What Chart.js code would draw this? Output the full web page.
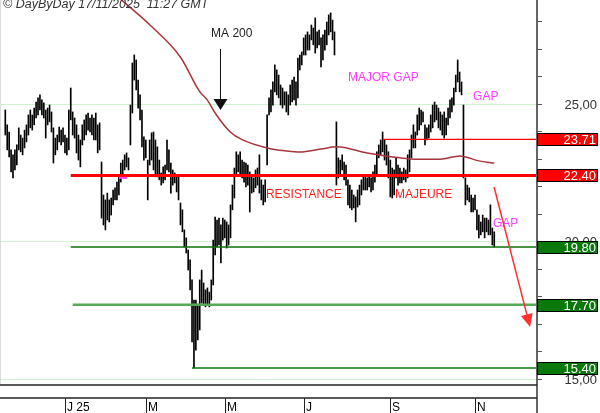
<!DOCTYPE html>
<html>
<head>
<meta charset="utf-8">
<script src="https://cdn.jsdelivr.net/npm/chart.js@4.4.1/dist/chart.umd.min.js"></script>
<style>
html, body { margin: 0; padding: 0; background: #fff; }
canvas { display: block; }
</style>
</head>
<body>
<canvas id="chart" width="600" height="413"></canvas>
<script>
// daily bars, index 0 = first session on the chart
const highs = [
    24.78, 24.24, 23.98, 23.33, 23.15, 23.33, 23.51, 24.13, 23.87, 23.76,
    24.05, 24.24, 24.60, 24.78, 24.60, 24.85, 25.07, 25.22, 25.33, 25.15,
    25.04, 24.78, 24.85, 24.96, 24.71, 24.13, 23.76, 23.87, 24.16, 24.05,
    24.13, 23.87, 23.76, 24.78, 25.58, 24.71, 24.49, 24.24, 23.87, 23.69,
    24.24, 24.42, 24.60, 24.67, 24.49, 24.60, 24.49, 24.67, 24.24, 24.31,
    22.89, 21.69, 21.51, 21.76, 21.51, 21.58, 21.87, 21.95, 22.16, 22.42,
    22.85, 22.96, 23.15, 23.22, 23.04, 24.96, 26.49, 26.78, 26.60, 25.87,
    25.33, 24.78, 23.80, 23.69, 22.96, 23.69, 23.95, 23.98, 23.69, 23.44,
    22.96, 22.49, 22.71, 22.78, 23.69, 23.33, 22.85, 22.60, 22.49, 22.42,
    22.35, 21.40, 21.15, 20.42, 20.13, 19.69, 19.33, 18.60, 17.87, 17.87,
    17.69, 18.60, 18.96, 18.49, 18.24, 18.31, 18.16, 18.60, 20.05, 20.89,
    20.78, 20.85, 20.60, 20.85, 20.78, 20.71, 20.60, 21.33, 22.05, 22.67,
    23.26, 23.15, 23.26, 22.96, 22.89, 22.85, 22.78, 22.53, 22.42, 22.31,
    22.60, 22.67, 23.15, 22.24, 22.05, 22.24, 24.60, 25.22, 25.51, 25.80,
    26.42, 26.24, 26.05, 25.69, 25.58, 25.44, 25.44, 25.33, 25.69, 25.87,
    25.98, 25.80, 26.67, 26.78, 26.89, 27.40, 27.51, 27.62, 27.51, 27.87,
    27.76, 28.13, 27.62, 27.69, 27.40, 27.51, 27.69, 27.98, 28.24, 28.31,
    28.05, 27.62, 24.35, 23.04, 22.96, 23.15, 22.89, 22.78, 22.24, 22.05,
    21.87, 21.69, 21.62, 21.87, 22.05, 22.24, 22.35, 22.42, 22.31, 22.42,
    22.31, 22.53, 22.78, 23.26, 23.51, 23.69, 23.98, 23.69, 23.51, 23.26,
    22.96, 22.67, 22.60, 23.04, 22.78, 22.67, 22.53, 22.67, 22.60, 23.15,
    23.33, 23.87, 24.24, 23.98, 24.60, 24.85, 24.78, 24.71, 24.24, 24.13,
    24.24, 24.60, 24.96, 25.07, 24.96, 24.85, 24.71, 24.60, 24.71, 24.49,
    24.85, 25.15, 25.22, 25.58, 26.05, 26.60, 26.16, 25.80, 24.96, 22.31,
    22.05, 21.95, 21.69, 21.58, 21.69, 21.15, 20.96, 20.71, 20.96, 20.85,
    20.85, 20.78, 21.33, 20.49, 20.35
];
const lows = [
    23.87, 23.33, 23.07, 22.53, 22.31, 22.60, 22.78, 23.33, 23.26, 23.15,
    23.40, 23.62, 23.87, 24.13, 24.05, 24.24, 24.49, 24.60, 24.78, 24.60,
    24.49, 23.76, 24.24, 24.35, 23.98, 22.85, 23.15, 23.33, 23.62, 23.51,
    23.62, 23.22, 23.15, 23.33, 24.42, 23.87, 23.76, 23.22, 22.96, 22.71,
    23.51, 23.69, 23.87, 24.05, 23.98, 23.87, 23.69, 23.69, 23.22, 23.33,
    20.85, 20.60, 20.42, 20.78, 20.71, 20.96, 21.33, 21.51, 21.51, 21.69,
    22.16, 22.42, 22.60, 22.71, 22.60, 23.51, 24.67, 25.87, 25.51, 24.85,
    24.42, 23.44, 22.96, 23.04, 21.51, 22.78, 22.96, 22.60, 22.35, 22.35,
    22.24, 22.05, 22.13, 22.24, 22.60, 22.53, 21.76, 22.05, 22.13, 21.80,
    21.51, 20.60, 20.35, 19.80, 19.58, 18.96, 18.24, 16.35, 15.40, 16.05,
    16.42, 16.78, 17.76, 17.69, 17.62, 17.69, 17.62, 17.87, 18.42, 19.51,
    19.80, 19.87, 19.22, 20.05, 20.13, 19.76, 19.87, 20.13, 21.15, 21.58,
    22.42, 22.53, 22.42, 22.31, 22.16, 21.98, 22.05, 21.07, 21.76, 21.80,
    21.95, 22.05, 21.76, 21.51, 21.33, 21.44, 22.78, 24.60, 24.71, 24.96,
    25.44, 25.33, 25.22, 24.96, 24.85, 24.96, 24.71, 24.60, 24.96, 25.07,
    25.15, 24.96, 25.22, 26.24, 26.42, 26.78, 26.78, 26.96, 26.96, 27.33,
    27.15, 26.85, 27.04, 27.15, 26.35, 26.60, 26.96, 27.15, 27.51, 27.62,
    27.33, 26.78, 22.05, 22.31, 22.42, 22.60, 22.24, 22.05, 21.33, 21.22,
    21.15, 21.22, 20.71, 21.25, 21.33, 21.69, 21.87, 21.87, 21.87, 21.98,
    21.80, 21.87, 22.16, 22.42, 23.04, 23.15, 23.26, 22.96, 22.78, 22.31,
    21.62, 21.58, 21.69, 22.31, 22.05, 22.13, 22.13, 22.24, 22.16, 22.31,
    22.53, 23.04, 23.40, 23.40, 23.87, 24.05, 24.24, 24.35, 23.51, 23.69,
    23.76, 23.98, 24.13, 24.35, 24.42, 24.13, 24.05, 23.87, 23.76, 23.87,
    24.24, 24.49, 24.71, 24.96, 25.44, 25.80, 25.44, 25.33, 22.31, 21.33,
    21.51, 21.44, 21.07, 21.07, 21.15, 20.42, 20.13, 20.24, 20.35, 20.13,
    20.35, 20.24, 20.24, 19.87, 19.80
];

// 200 day moving average, read at a few sessions
const maIndex = [60, 75, 91, 101, 105, 109, 117, 123, 136, 146, 153, 164, 172, 188, 205, 214, 226, 236, 246, 254];
const maValues = [28.80, 27.88, 26.70, 25.45, 25.14, 24.67, 23.97, 23.70, 23.40, 23.29, 23.25, 23.36, 23.44, 23.22, 23.04, 22.99, 22.99, 23.11, 22.93, 22.85];

// support / resistance levels and the session where each line starts
const levels = [23.71, 22.40, 19.80, 17.70, 15.40];
const levelStart = [196, 34, 34, 35, 97];

const monthIndex = [31, 73, 114, 155, 200, 244];
const monthLabels = ['J 25', 'M', 'M', 'J', 'S', 'N'];

const gridValues = [15, 20, 25];
const axisLabels = ['15,00', '20,00', '25,00'];

const xMin = -2.75;
const xMax = 276.2;

const levelStyle = [
    { color: '#ff0000', width: 1.2, box: '#ff0000' },
    { color: '#ff0000', width: 3, box: '#ff0000' },
    { color: '#0b720b', width: 1.5, box: '#0a780a' },
    { color: '#55aa55', width: 2.5, box: '#0a780a' },
    { color: '#0b7a0b', width: 1.5, box: '#0a780a' }
];

const notes = [
    { text: 'MA 200', x: 106.9, y: 27.60, color: '#222' },
    { text: 'MAJOR GAP', x: 178.0, y: 26.02, color: '#ff3cff' },
    { text: 'GAP', x: 243.0, y: 25.33, color: '#ff3cff' },
    { text: 'GAP', x: 253.3, y: 20.69, color: '#ff3cff' },
    { text: 'RESISTANCE', x: 135.4, y: 21.76, color: '#ff2020' },
    { text: 'MAJEURE', x: 202.4, y: 21.76, color: '#ff2020' }
];

const FONT = '"Liberation Sans", Arial, sans-serif';

function drawArrow(ctx, x1, y1, x2, y2, color, lw, len, half) {
    const ang = Math.atan2(y2 - y1, x2 - x1);
    ctx.strokeStyle = color;
    ctx.fillStyle = color;
    ctx.lineWidth = lw;
    ctx.beginPath();
    ctx.moveTo(x1, y1);
    ctx.lineTo(x2 - Math.cos(ang) * len * 0.6, y2 - Math.sin(ang) * len * 0.6);
    ctx.stroke();
    const bx = x2 - Math.cos(ang) * len;
    const by = y2 - Math.sin(ang) * len;
    ctx.beginPath();
    ctx.moveTo(x2, y2);
    ctx.lineTo(bx + Math.sin(ang) * half, by - Math.cos(ang) * half);
    ctx.lineTo(bx - Math.sin(ang) * half, by + Math.cos(ang) * half);
    ctx.closePath();
    ctx.fill();
}

const decor = {
    id: 'decor',
    beforeDatasetsDraw(chart) {
        const { ctx, chartArea: a, scales: { y } } = chart;
        ctx.save();
        ctx.strokeStyle = '#cff2cf';
        ctx.lineWidth = 1;
        gridValues.forEach(v => {
            const py = Math.round(y.getPixelForValue(v)) + 0.5;
            ctx.beginPath();
            ctx.moveTo(a.left, py);
            ctx.lineTo(a.right, py);
            ctx.stroke();
        });
        ctx.strokeStyle = '#dcdcdc';
        ctx.beginPath();
        ctx.moveTo(0.5, 0);
        ctx.lineTo(0.5, a.bottom);
        ctx.stroke();
        ctx.restore();
    },
    afterDraw(chart) {
        const { ctx, chartArea: a, scales: { x, y } } = chart;
        ctx.save();

        // text notes
        ctx.font = '12px ' + FONT;
        ctx.textBaseline = 'middle';
        ctx.textAlign = 'left';
        notes.forEach(n => {
            ctx.fillStyle = n.color;
            ctx.fillText(n.text, x.getPixelForValue(n.x), y.getPixelForValue(n.y) + 1.5);
        });
        ctx.fillStyle = '#ff40ff';
        ctx.fillRect(x.getPixelForValue(59), y.getPixelForValue(22.31) - 1, 8, 2);

        // MA 200 pointer
        const mx = Math.round(x.getPixelForValue(111.5)) + 0.5;
        drawArrow(ctx, mx, y.getPixelForValue(27.0), mx, y.getPixelForValue(24.78), '#111', 1, 11, 7);

        // projected move
        drawArrow(ctx, x.getPixelForValue(253.9), y.getPixelForValue(21.98),
            x.getPixelForValue(272.6), y.getPixelForValue(16.89), '#ff3030', 1.5, 13, 6);

        // price axis
        ctx.strokeStyle = '#666';
        ctx.lineWidth = 2;
        ctx.beginPath();
        ctx.moveTo(a.right, 0);
        ctx.lineTo(a.right, chart.height);
        ctx.stroke();
        ctx.strokeStyle = '#555';
        ctx.lineWidth = 1;
        for (let v = 15; v <= 28; v++) {
            const py = Math.round(y.getPixelForValue(v)) + 0.5;
            ctx.beginPath();
            ctx.moveTo(a.right, py);
            ctx.lineTo(a.right + 5, py);
            ctx.stroke();
        }
        ctx.font = '13px ' + FONT;
        ctx.textAlign = 'right';
        ctx.fillStyle = '#333';
        gridValues.forEach((v, i) => {
            ctx.fillText(axisLabels[i], 597, y.getPixelForValue(v) + 1);
        });

        // level boxes
        levels.forEach((v, i) => {
            const py = Math.round(y.getPixelForValue(v));
            ctx.fillStyle = levelStyle[i].box;
            ctx.fillRect(a.right, py - 6, 61, 13);
            ctx.strokeStyle = '#000';
            ctx.lineWidth = 1;
            ctx.strokeRect(a.right + 0.5, py - 5.5, 60, 12);
            ctx.fillStyle = '#fff';
            ctx.fillText(v.toFixed(2), 596, py + 1);
        });

        // time axis
        ctx.strokeStyle = '#222';
        ctx.lineWidth = 1.5;
        [a.bottom, a.bottom + 13].forEach(py => {
            ctx.beginPath();
            ctx.moveTo(0, py);
            ctx.lineTo(a.right, py);
            ctx.stroke();
        });
        ctx.lineWidth = 1;
        ctx.font = '12px ' + FONT;
        ctx.textAlign = 'left';
        ctx.textBaseline = 'alphabetic';
        ctx.fillStyle = '#000';
        monthIndex.forEach((m, i) => {
            const px = Math.round(x.getPixelForValue(m)) + 0.5;
            ctx.beginPath();
            ctx.moveTo(px, a.bottom + 13);
            ctx.lineTo(px, chart.height);
            ctx.stroke();
            ctx.fillText(monthLabels[i], px + 1.5, 411);
        });

        // header
        ctx.font = 'italic 12.5px ' + FONT;
        ctx.fillStyle = '#333';
        ctx.fillText('\u00a9 DayByDay 17/11/2025  11:27 GMT', 3, 8);
        ctx.restore();
    }
};

const datasets = [
    {
        type: 'bar',
        data: highs.map((h, i) => ({ x: i, y: [lows[i], h] })),
        backgroundColor: '#000',
        borderWidth: 0,
        barThickness: 1,
        grouped: false,
        order: 3
    },
    {
        type: 'line',
        data: maIndex.map((m, i) => ({ x: m, y: maValues[i] })),
        borderColor: '#a8353a',
        borderWidth: 1.5,
        pointRadius: 0,
        cubicInterpolationMode: 'monotone',
        order: 2
    }
];
levels.forEach((v, i) => {
    datasets.push({
        type: 'line',
        data: [{ x: levelStart[i], y: v }, { x: xMax, y: v }],
        borderColor: levelStyle[i].color,
        borderWidth: levelStyle[i].width,
        pointRadius: 0,
        order: 1
    });
});

new Chart(document.getElementById('chart'), {
    type: 'bar',
    data: { datasets },
    options: {
        responsive: false,
        animation: false,
        devicePixelRatio: 1,
        layout: { padding: { left: 0, top: 0, right: 63, bottom: 28 } },
        plugins: {
            legend: { display: false },
            tooltip: { enabled: false }
        },
        scales: {
            x: { type: 'linear', min: xMin, max: xMax, offset: false, display: false },
            y: { min: 14.78, max: 28.78, display: false }
        }
    },
    plugins: [decor]
});
</script>
</body>
</html>
